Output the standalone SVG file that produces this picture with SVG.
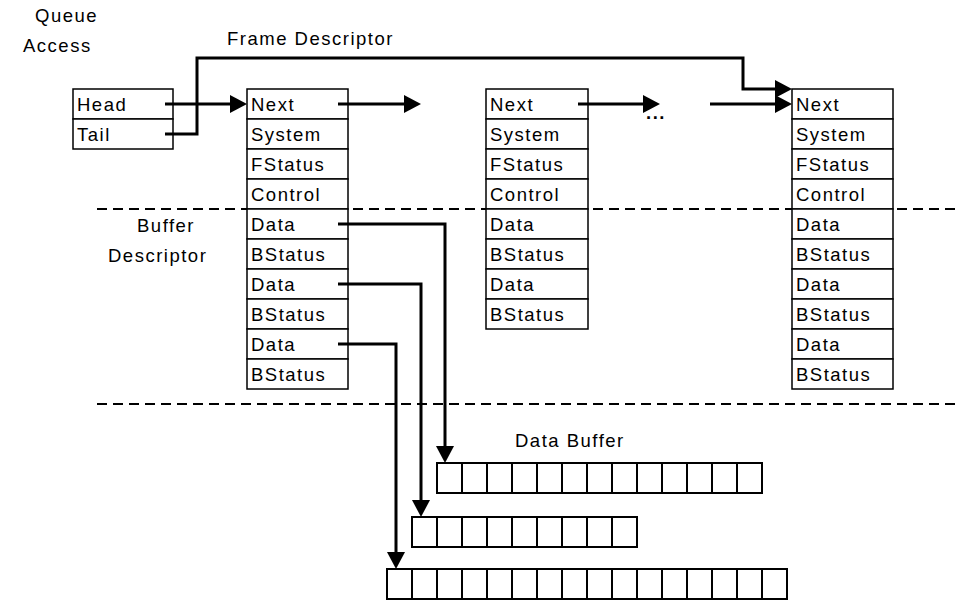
<svg xmlns="http://www.w3.org/2000/svg" width="956" height="604" viewBox="0 0 956 604">
<style>
text{font-family:"Liberation Sans",Arial,sans-serif;font-size:18.5px;letter-spacing:1.5px;fill:#000}
.cell{fill:#fff;stroke:#000;stroke-width:1.5}
.buf{fill:#fff;stroke:#000;stroke-width:2}
.dash{stroke:#000;stroke-width:2;stroke-dasharray:10 6;fill:none}
.conn{stroke:#000;stroke-width:3;fill:none;marker-end:url(#ah)}
</style>
<defs>
<marker id="ah" markerUnits="userSpaceOnUse" markerWidth="18" markerHeight="18" refX="0" refY="9" orient="auto" overflow="visible">
<path d="M0,0 L17,9 L0,18 z" fill="#000"/>
</marker>
</defs>
<rect width="956" height="604" fill="#fff"/>
<g id="separators">
<line class="dash" x1="97" y1="209" x2="956" y2="209"/>
<line class="dash" x1="97" y1="404" x2="956" y2="404"/>
</g>
<g id="labels">
<text x="35" y="22">Queue</text>
<text x="23" y="52">Access</text>
<text x="227" y="45">Frame Descriptor</text>
<text x="137" y="232">Buffer</text>
<text x="108" y="262">Descriptor</text>
<text x="515" y="447">Data Buffer</text>
<text x="646" y="119" style="font-weight:bold">...</text>
</g>
<g id="queue-access">
<rect class="cell" x="73" y="89" width="100" height="30"/><text x="77" y="111">Head</text>
<rect class="cell" x="73" y="119" width="100" height="30"/><text x="77" y="141">Tail</text>
</g>
<g id="frame1">
<rect class="cell" x="247" y="89" width="101" height="30"/><text x="251" y="111">Next</text>
<rect class="cell" x="247" y="119" width="101" height="30"/><text x="251" y="141">System</text>
<rect class="cell" x="247" y="149" width="101" height="30"/><text x="251" y="171">FStatus</text>
<rect class="cell" x="247" y="179" width="101" height="30"/><text x="251" y="201">Control</text>
<rect class="cell" x="247" y="209" width="101" height="30"/><text x="251" y="231">Data</text>
<rect class="cell" x="247" y="239" width="101" height="30"/><text x="251" y="261">BStatus</text>
<rect class="cell" x="247" y="269" width="101" height="30"/><text x="251" y="291">Data</text>
<rect class="cell" x="247" y="299" width="101" height="30"/><text x="251" y="321">BStatus</text>
<rect class="cell" x="247" y="329" width="101" height="30"/><text x="251" y="351">Data</text>
<rect class="cell" x="247" y="359" width="101" height="30"/><text x="251" y="381">BStatus</text>
</g>
<g id="frame2">
<rect class="cell" x="486" y="89" width="102" height="30"/><text x="490" y="111">Next</text>
<rect class="cell" x="486" y="119" width="102" height="30"/><text x="490" y="141">System</text>
<rect class="cell" x="486" y="149" width="102" height="30"/><text x="490" y="171">FStatus</text>
<rect class="cell" x="486" y="179" width="102" height="30"/><text x="490" y="201">Control</text>
<rect class="cell" x="486" y="209" width="102" height="30"/><text x="490" y="231">Data</text>
<rect class="cell" x="486" y="239" width="102" height="30"/><text x="490" y="261">BStatus</text>
<rect class="cell" x="486" y="269" width="102" height="30"/><text x="490" y="291">Data</text>
<rect class="cell" x="486" y="299" width="102" height="30"/><text x="490" y="321">BStatus</text>
</g>
<g id="frame3">
<rect class="cell" x="792" y="89" width="101" height="30"/><text x="796" y="111">Next</text>
<rect class="cell" x="792" y="119" width="101" height="30"/><text x="796" y="141">System</text>
<rect class="cell" x="792" y="149" width="101" height="30"/><text x="796" y="171">FStatus</text>
<rect class="cell" x="792" y="179" width="101" height="30"/><text x="796" y="201">Control</text>
<rect class="cell" x="792" y="209" width="101" height="30"/><text x="796" y="231">Data</text>
<rect class="cell" x="792" y="239" width="101" height="30"/><text x="796" y="261">BStatus</text>
<rect class="cell" x="792" y="269" width="101" height="30"/><text x="796" y="291">Data</text>
<rect class="cell" x="792" y="299" width="101" height="30"/><text x="796" y="321">BStatus</text>
<rect class="cell" x="792" y="329" width="101" height="30"/><text x="796" y="351">Data</text>
<rect class="cell" x="792" y="359" width="101" height="30"/><text x="796" y="381">BStatus</text>
</g>
<g id="buffer1">
<rect class="buf" x="437" y="463" width="25" height="30"/><rect class="buf" x="462" y="463" width="25" height="30"/><rect class="buf" x="487" y="463" width="25" height="30"/><rect class="buf" x="512" y="463" width="25" height="30"/><rect class="buf" x="537" y="463" width="25" height="30"/><rect class="buf" x="562" y="463" width="25" height="30"/><rect class="buf" x="587" y="463" width="25" height="30"/><rect class="buf" x="612" y="463" width="25" height="30"/><rect class="buf" x="637" y="463" width="25" height="30"/><rect class="buf" x="662" y="463" width="25" height="30"/><rect class="buf" x="687" y="463" width="25" height="30"/><rect class="buf" x="712" y="463" width="25" height="30"/><rect class="buf" x="737" y="463" width="25" height="30"/>
</g>
<g id="buffer2">
<rect class="buf" x="412" y="517" width="25" height="30"/><rect class="buf" x="437" y="517" width="25" height="30"/><rect class="buf" x="462" y="517" width="25" height="30"/><rect class="buf" x="487" y="517" width="25" height="30"/><rect class="buf" x="512" y="517" width="25" height="30"/><rect class="buf" x="537" y="517" width="25" height="30"/><rect class="buf" x="562" y="517" width="25" height="30"/><rect class="buf" x="587" y="517" width="25" height="30"/><rect class="buf" x="612" y="517" width="25" height="30"/>
</g>
<g id="buffer3">
<rect class="buf" x="387" y="569" width="25" height="30"/><rect class="buf" x="412" y="569" width="25" height="30"/><rect class="buf" x="437" y="569" width="25" height="30"/><rect class="buf" x="462" y="569" width="25" height="30"/><rect class="buf" x="487" y="569" width="25" height="30"/><rect class="buf" x="512" y="569" width="25" height="30"/><rect class="buf" x="537" y="569" width="25" height="30"/><rect class="buf" x="562" y="569" width="25" height="30"/><rect class="buf" x="587" y="569" width="25" height="30"/><rect class="buf" x="612" y="569" width="25" height="30"/><rect class="buf" x="637" y="569" width="25" height="30"/><rect class="buf" x="662" y="569" width="25" height="30"/><rect class="buf" x="687" y="569" width="25" height="30"/><rect class="buf" x="712" y="569" width="25" height="30"/><rect class="buf" x="737" y="569" width="25" height="30"/><rect class="buf" x="762" y="569" width="25" height="30"/>
</g>
<g id="connectors">
<polyline class="conn" points="165,104 230,104"/>
<polyline class="conn" points="165,134 197,134 197,58 743,58 743,89 775,89"/>
<polyline class="conn" points="338,104 404,104"/>
<polyline class="conn" points="578,104 643,104"/>
<polyline class="conn" points="710,104 775,104"/>
<polyline class="conn" points="338,224 445,224 445,446"/>
<polyline class="conn" points="338,284 421,284 421,500"/>
<polyline class="conn" points="338,344 396,344 396,552"/>
</g>
</svg>
